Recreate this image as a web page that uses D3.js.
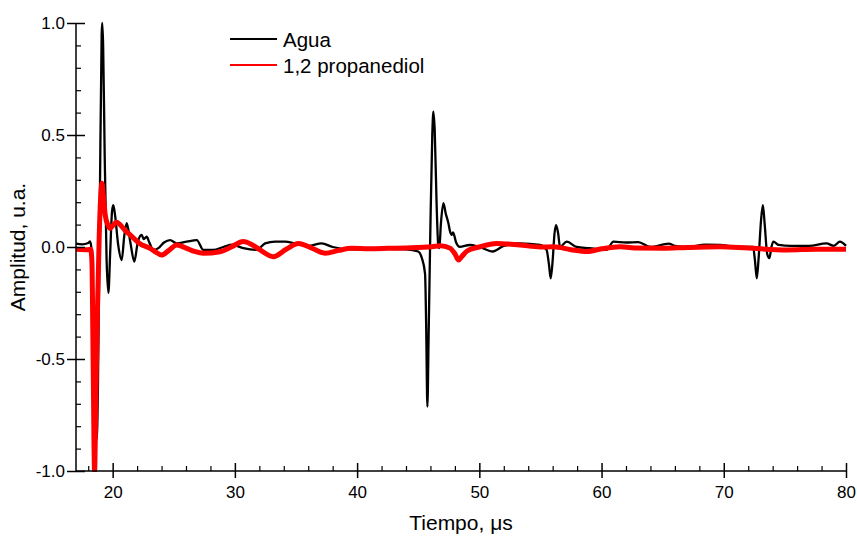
<!DOCTYPE html>
<html><head><meta charset="utf-8">
<script src="https://cdn.jsdelivr.net/npm/d3@7"></script>
<style>
body{margin:0;background:#fff;}
svg text{font-family:"Liberation Sans",Arial,sans-serif;fill:#000;}
</style></head>
<body><svg id="c" width="857" height="538"></svg>
<script>
// ---- data ----
const seriesNames = ["Agua", "1,2 propanediol"];
const seriesColors = ["#000000", "#ff0000"];
const xMajorTicks = [20, 30, 40, 50, 60, 70, 80];
const yMajorTicks = [-1.0, -0.5, 0.0, 0.5, 1.0];

const aguaT = [17.0,17.5,18.0,18.15,18.25,18.35,18.5,18.7,18.8,18.95,19.1,19.15,19.22,19.35,19.5,19.65,19.8,19.95,20.05,20.2,20.45,20.74,20.95,21.15,21.45,21.77,22.05,22.37,22.55,22.78,23.0,23.33,23.74,24.2,24.7,25.24,26.06,26.88,27.42,28.24,29.05,29.8,30.69,31.8,32.47,33.3,34.1,35.0,36.0,37.1,38.0,39.5,41.0,42.5,44.0,45.0,45.3,45.56,45.65,45.75,45.85,46.0,46.15,46.24,46.35,46.5,46.65,46.73,46.85,47.06,47.25,47.47,47.6,47.74,47.85,48.1,48.4,49.2,50.0,51.1,52.0,53.3,54.97,55.5,55.7,55.84,56.0,56.15,56.28,56.45,56.6,57.15,57.97,59.0,60.4,60.97,62.0,63.0,64.0,65.5,66.0,67.0,68.5,69.7,71.0,72.4,72.55,72.7,72.85,73.05,73.2,73.35,73.55,73.73,73.9,74.06,74.5,75.5,77.0,78.4,79.0,79.5,80.0];
const aguaV = [0.015,0.012,0.018,0.025,0.0,-0.15,-0.55,-0.86,-0.6,0.2,0.95,1.0,0.9,0.4,-0.05,-0.205,-0.02,0.16,0.187,0.14,0.01,-0.058,0.05,0.107,0.02,-0.065,0.02,0.054,0.035,0.046,0.02,-0.013,-0.005,0.02,0.031,0.016,0.024,0.031,-0.013,-0.013,0.0,0.01,-0.005,-0.013,0.016,0.024,0.024,0.015,0.005,0.016,0.0,-0.01,-0.01,-0.008,-0.01,-0.02,-0.05,-0.12,-0.35,-0.713,-0.4,0.1,0.5,0.604,0.52,0.2,0.0,-0.005,0.1,0.196,0.15,0.106,0.07,0.054,0.065,0.02,0.001,0.009,0.0,-0.02,0.005,0.016,0.009,-0.013,-0.08,-0.14,-0.06,0.06,0.098,0.06,0.001,0.024,0.0,-0.005,-0.013,0.024,0.02,0.022,0.0,0.015,0.005,0.0,0.01,0.009,0.0,0.001,-0.06,-0.14,-0.05,0.12,0.187,0.1,-0.03,-0.05,0.0,0.024,0.009,0.005,0.005,0.016,0.005,0.024,0.005];

const propT = [17.0,18.0,18.2,18.3,18.4,18.52,18.62,18.75,18.9,19.05,19.12,19.25,19.4,19.6,19.78,20.0,20.3,20.6,21.0,21.4,21.8,22.2,23.06,23.6,24.0,24.6,25.24,26.06,26.7,27.42,28.78,29.7,30.69,31.4,32.06,33.15,34.2,35.2,36.3,37.4,38.5,39.56,41.0,42.56,44.0,46.1,46.8,47.6,48.0,48.3,48.6,49.0,50.0,51.4,53.3,55.0,56.06,57.5,58.8,60.0,61.5,63.0,65.0,67.0,69.7,72.0,75.2,77.5,80.0];
const propV = [-0.01,-0.012,-0.01,-0.06,-0.5,-1.0,-0.7,-0.3,0.05,0.25,0.285,0.22,0.14,0.1,0.083,0.095,0.11,0.1,0.075,0.055,0.035,0.016,-0.006,-0.025,-0.036,-0.015,0.009,-0.006,-0.02,-0.028,-0.021,0.0,0.024,0.01,-0.013,-0.043,-0.01,0.016,-0.005,-0.028,-0.015,-0.006,-0.008,-0.006,-0.004,0.001,0.006,-0.005,-0.03,-0.058,-0.04,-0.018,0.0,0.016,0.009,0.0,0.001,-0.012,-0.02,-0.008,0.001,-0.005,-0.006,-0.002,0.001,-0.005,-0.013,-0.01,-0.01];

// ---- chart ----
const svg = d3.select("#c");
const x = d3.scaleLinear().domain([17, 80]).range([76, 846]);
const y = d3.scaleLinear().domain([-1, 1]).range([471, 23]);

svg.append("clipPath").attr("id","clip").append("rect")
  .attr("x",76).attr("y",18).attr("width",772).attr("height",454);

const line = d3.line().x(d=>x(d[0])).y(d=>y(d[1])).curve(d3.curveMonotoneX);
const agua = aguaT.map((t,i)=>[t, aguaV[i]]);
const prop = propT.map((t,i)=>[t, propV[i]]);

const g = svg.append("g").attr("clip-path","url(#clip)");
g.append("path").datum(agua).attr("d",line).attr("fill","none")
  .attr("stroke",seriesColors[0]).attr("stroke-width",2.3).attr("stroke-linejoin","round");
g.append("path").datum(prop).attr("d",line).attr("fill","none")
  .attr("stroke",seriesColors[1]).attr("stroke-width",5).attr("stroke-linejoin","round");

// x axis
const xMinor = d3.range(18, 80.01, 2).filter(v=>!xMajorTicks.includes(v));
const xa = svg.append("g").attr("transform",`translate(0,${y(-1)})`);
xa.call(d3.axisBottom(x).tickValues(xMajorTicks).tickSize(7).tickPadding(8)
  .tickFormat(d3.format("d")));
xa.selectAll(".tick line").attr("y1",-8).attr("y2",7).attr("stroke","#000").attr("stroke-width",1.5);
xa.select(".domain").attr("d",`M${x(17)},0H${x(80)}`).attr("stroke","#000").attr("stroke-width",1.5);
xa.selectAll(".tick text").attr("font-size",17).attr("font-family","Liberation Sans, Arial, sans-serif");
const xm = svg.append("g").attr("transform",`translate(0,${y(-1)})`);
xm.call(d3.axisTop(x).tickValues(xMinor).tickSize(5).tickFormat(""));
xm.select(".domain").remove();
xm.selectAll(".tick line").attr("stroke","#000").attr("stroke-width",1.2);

// y axis
const yMinor = d3.range(-10, 10.5, 1).map(v=>v/10).filter(v=>Math.abs(v*2 - Math.round(v*2))>1e-6);
const ya = svg.append("g").attr("transform",`translate(${x(17)},0)`);
ya.call(d3.axisLeft(y).tickValues(yMajorTicks).tickSize(9).tickPadding(2)
  .tickFormat(d3.format(".1f")));
ya.selectAll(".tick line").attr("x1",-9).attr("x2",9).attr("stroke","#000").attr("stroke-width",1.5);
ya.select(".domain").attr("d",`M0,${y(-1)}V${y(1)}`).attr("stroke","#000").attr("stroke-width",1.5);
ya.selectAll(".tick text").attr("font-size",17).attr("font-family","Liberation Sans, Arial, sans-serif")
  .text(d=>d3.format(".1f")(d).replace("−","-"));
const ym = svg.append("g").attr("transform",`translate(${x(17)},0)`);
ym.call(d3.axisRight(y).tickValues(yMinor).tickSize(5).tickFormat(""));
ym.select(".domain").remove();
ym.selectAll(".tick line").attr("stroke","#000").attr("stroke-width",1.2);

// axis titles
svg.append("text").attr("x",461).attr("y",530).attr("text-anchor","middle")
  .attr("font-size",21).text("Tiempo, μs");
svg.append("text").attr("transform","translate(25,247) rotate(-90)").attr("text-anchor","middle")
  .attr("font-size",21).text("Amplitud, u.a.");

// legend
const leg = svg.append("g");
seriesNames.forEach((n,i)=>{
  const yy = 39 + i*26;
  leg.append("line").attr("x1",230).attr("x2",277).attr("y1",yy).attr("y2",yy)
    .attr("stroke",seriesColors[i]).attr("stroke-width",2);
  leg.append("text").attr("x",283).attr("y",yy+8).attr("font-size",20.5).text(n);
});
</script></body></html>
